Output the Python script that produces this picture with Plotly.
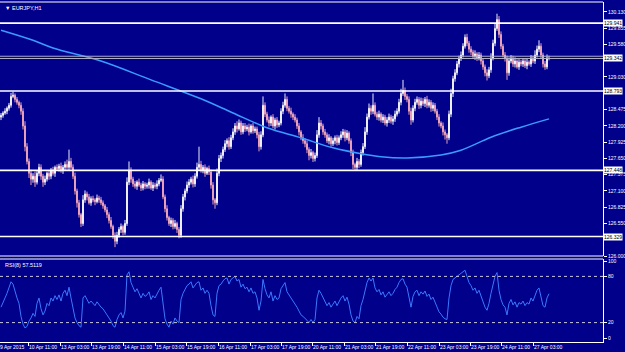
import plotly.graph_objects as go

# ---------------- data ----------------
FIRST_OPEN = 128.35
CLOSE = [
    128.38, 128.42, 128.45, 128.50, 128.55, 128.70, 128.72, 128.65, 128.60, 128.55,
    128.45, 128.20, 127.85, 127.60, 127.40, 127.30, 127.35, 127.25, 127.40, 127.50,
    127.35, 127.25, 127.30, 127.40, 127.35, 127.45, 127.40, 127.50, 127.48, 127.52,
    127.45, 127.50, 127.55, 127.50, 127.60, 127.50, 127.35, 127.10, 126.90, 126.70,
    126.55, 126.95, 127.05, 127.00, 126.90, 126.97, 126.95, 126.92, 126.98, 126.95,
    126.90, 126.85, 126.78, 126.70, 126.60, 126.50, 126.35, 126.25, 126.35, 126.45,
    126.50, 126.40, 126.55, 127.25, 127.45, 127.30, 127.22, 127.18, 127.25, 127.20,
    127.15, 127.22, 127.18, 127.20, 127.25, 127.15, 127.20, 127.18, 127.22, 127.28,
    127.30, 127.00, 126.80, 126.65, 126.55, 126.60, 126.50, 126.55, 126.45, 126.35,
    126.80, 127.00, 127.10, 127.20, 127.25, 127.30, 127.22, 127.35, 127.50, 127.55,
    127.45, 127.50, 127.40, 127.48, 127.42, 127.20, 126.95, 126.90, 127.40, 127.65,
    127.70, 127.80, 127.90, 127.95, 127.85, 128.00, 128.10, 128.20, 128.15, 128.25,
    128.10, 128.20, 128.15, 128.18, 128.10, 128.20, 128.12, 128.15, 128.05, 127.85,
    128.05, 128.55, 128.40, 128.30, 128.25, 128.35, 128.20, 128.30, 128.22, 128.25,
    128.45, 128.55, 128.65, 128.50, 128.45, 128.40, 128.35, 128.30, 128.20, 128.10,
    128.00, 127.95, 127.90, 127.80, 127.70, 127.75, 127.65, 127.70, 128.05, 128.25,
    128.20, 128.10, 128.05, 127.95, 128.00, 127.90, 127.95, 128.00, 127.92, 128.00,
    128.05, 128.10, 128.00, 128.08, 127.95, 127.75, 127.55, 127.50, 127.60, 127.55,
    127.75, 127.85, 128.10, 128.35, 128.50, 128.45, 128.55, 128.40, 128.35, 128.40,
    128.30, 128.35, 128.25, 128.30, 128.35, 128.28, 128.32, 128.40, 128.45, 128.60,
    128.75, 128.80, 128.70, 128.65, 128.45, 128.30, 128.50, 128.60, 128.65, 128.55,
    128.62, 128.58, 128.65, 128.55, 128.60, 128.50, 128.55, 128.45, 128.35, 128.25,
    128.20, 128.10, 128.05, 128.00, 128.40, 128.75, 129.00, 129.10, 129.25, 129.35,
    129.40, 129.55, 129.70, 129.60, 129.50, 129.45, 129.38, 129.42, 129.35, 129.40,
    129.30, 129.20, 129.10, 129.05, 129.15, 129.35, 129.60, 129.85, 130.00, 129.75,
    129.55, 129.40, 129.35, 129.10, 129.30, 129.35, 129.25, 129.30, 129.20, 129.28,
    129.25, 129.30, 129.22, 129.28, 129.25, 129.35, 129.30, 129.40, 129.50, 129.55,
    129.40, 129.25, 129.20, 129.35, 129.34,
]
# upper / lower wick lengths in hundredths of a yen
UP_WICK = [
    4, 3, 5, 3, 4, 6, 6, 3, 4, 3,   5, 5, 8, 6, 5, 6, 5, 8, 4, 6,
    5, 4, 6, 3, 5, 4, 6, 3, 5, 4,   6, 4, 5, 8, 20, 6, 5, 6, 4, 5,
    3, 8, 6, 4, 5, 4, 5, 3, 6, 4,   5, 4, 3, 5, 4, 6, 3, 5, 6, 4,
    5, 3, 6, 8, 15, 5, 4, 5, 3, 6,  4, 5, 3, 4, 6, 3, 5, 4, 6, 4,
    8, 5, 4, 6, 3, 5, 4, 6, 3, 4,   6, 5, 4, 6, 5, 4, 6, 5, 8, 30,
    6, 4, 5, 3, 5, 4, 5, 3, 8, 6,   5, 5, 6, 4, 6, 5, 6, 5, 8, 6,
    4, 5, 5, 4, 6, 3, 5, 4, 4, 5,   6, 15, 5, 4, 6, 3, 5, 4, 5, 4,
    5, 6, 10, 5, 4, 6, 3, 5, 4, 5,  3, 6, 4, 5, 4, 6, 3, 5, 8, 10,
    5, 4, 5, 4, 6, 3, 5, 4, 5, 4,   6, 5, 4, 5, 3, 4, 5, 3, 6, 4,
    5, 6, 8, 6, 8, 5, 20, 5, 4, 6,  3, 5, 4, 5, 6, 4, 5, 6, 5, 6,
    8, 18, 5, 4, 5, 6, 5, 6, 5, 4,  6, 5, 4, 6, 5, 4, 5, 4, 4, 5,
    3, 6, 4, 3, 6, 8, 5, 6, 5, 4,   6, 5, 5, 6, 4, 5, 4, 6, 3, 5,
    4, 5, 4, 6, 5, 8, 6, 8, 10, 6,  5, 4, 5, 4, 6, 5, 4, 6, 3, 5,
    4, 5, 4, 6, 3, 5, 4, 8, 6, 10,  5, 4, 5, 6, 4,
]
DOWN_WICK = [
    5, 4, 3, 5, 4, 4, 3, 5, 4, 5,   6, 6, 8, 5, 8, 10, 6, 8, 4, 5,
    6, 8, 5, 4, 6, 5, 4, 6, 3, 5,   4, 6, 5, 4, 5, 3, 5, 6, 8, 5,
    6, 4, 5, 6, 3, 5, 4, 6, 3, 5,   4, 5, 4, 6, 5, 4, 6, 10, 5, 4,
    6, 5, 4, 4, 5, 6, 5, 4, 6, 3,   5, 4, 5, 4, 6, 3, 5, 4, 5, 4,
    3, 4, 6, 5, 4, 6, 5, 4, 6, 5,   4, 5, 6, 4, 5, 4, 6, 5, 4, 5,
    4, 5, 6, 3, 5, 6, 8, 10, 4, 5,  6, 5, 4, 6, 5, 4, 4, 5, 6, 3,
    5, 4, 5, 4, 6, 3, 5, 4, 6, 8,   5, 4, 5, 4, 6, 5, 4, 6, 5, 4,
    4, 5, 4, 5, 4, 6, 5, 4, 5, 6,   4, 5, 6, 6, 8, 5, 6, 5, 4, 5,
    6, 5, 5, 4, 6, 5, 4, 6, 5, 4,   4, 5, 6, 4, 5, 6, 8, 5, 5, 6,
    4, 5, 4, 5, 4, 6, 5, 4, 5, 6,   4, 5, 4, 6, 5, 4, 6, 5, 4, 4,
    5, 4, 6, 5, 6, 8, 4, 5, 4, 6,   5, 4, 6, 5, 4, 6, 5, 4, 5, 6,
    4, 6, 8, 10, 4, 5, 6, 5, 4, 6,  5, 4, 4, 5, 6, 5, 4, 6, 5, 4,
    6, 5, 6, 8, 4, 5, 4, 5, 4, 6,   5, 4, 6, 12, 5, 4, 5, 6, 3, 5,
    4, 5, 4, 6, 3, 5, 4, 5, 4, 5,   6, 6, 5, 4, 3,
]
RSI = [
    40, 45, 52, 58, 65, 73, 70, 60, 52, 45,  28, 18, 13, 15, 22, 26, 32, 28, 45, 52,
    38, 30, 35, 45, 42, 52, 48, 55, 50, 56,  48, 58, 62, 55, 66, 52, 38, 26, 20, 16,
    14, 52, 55, 50, 45, 48, 45, 42, 47, 43,  40, 38, 33, 30, 26, 22, 16, 14, 24, 30,
    33, 26, 35, 82, 86, 72, 66, 60, 64, 58,  52, 58, 54, 56, 60, 50, 55, 52, 58, 62,
    66, 42, 25, 18, 14, 22, 18, 26, 22, 20,  50, 58, 64, 68, 70, 73, 65, 68, 72, 73,
    62, 65, 58, 62, 58, 42, 30, 28, 58, 68,  70, 74, 77, 78, 70, 76, 78, 80, 74, 76,
    66, 70, 64, 66, 60, 65, 58, 60, 52, 36,  48, 76, 64, 56, 52, 60, 48, 55, 50, 52,
    64, 68, 72, 60, 56, 52, 48, 45, 40, 35,  30, 28, 26, 23, 20, 24, 20, 24, 52, 62,
    58, 52, 48, 42, 46, 40, 44, 48, 42, 48,  52, 55, 48, 53, 44, 30, 22, 20, 28, 25,
    42, 50, 62, 72, 78, 74, 78, 65, 60, 63,  56, 60, 53, 57, 60, 55, 58, 63, 66, 72,
    76, 77, 70, 66, 50, 40, 54, 60, 62, 55,  60, 57, 61, 54, 57, 50, 53, 46, 40, 34,
    31, 27, 25, 24, 52, 68, 76, 78, 81, 83,  84, 86, 88, 80, 72, 68, 62, 65, 58, 62,
    54, 46, 40, 36, 45, 58, 70, 80, 85, 62,  50, 43, 40, 30, 45, 50, 43, 47, 40, 46,
    44, 48, 42, 46, 44, 52, 48, 55, 62, 65,  52, 42, 40, 52, 57.5,
]
MA_BARS = [0, 16, 26, 50, 75, 100, 116, 133, 150, 166, 180, 190, 203, 220, 230, 245, 260, 274]
MA_VALUES = [129.82, 129.65, 129.52, 129.30, 128.98, 128.66, 128.42, 128.17, 128.00, 127.83,
             127.73, 127.68, 127.66, 127.71, 127.79, 128.01, 128.18, 128.32]

LEVELS = [129.941, 128.793, 127.448, 126.329]
LEVEL_LABELS = ["129.941", "128.793", "127.448", "126.329"]
GREY_LEVELS = [129.342, 129.380]
GREY_LABEL = "129.342"

PRICE_TICKS = [130.130, 129.855, 129.580, 129.030, 128.475, 128.200,
               127.925, 127.650, 127.375, 127.100, 126.825, 126.550, 126.000]
PRICE_TICK_TEXT = ["130.130", "129.855", "129.580", "129.030", "128.475", "128.200",
                   "127.925", "127.650", "127.375", "127.100", "126.825", "126.550", "126.000"]
RSI_TICKS = [0, 20, 80, 100]
TIME_TICK_BARS = [13.5, 29.5, 45, 61, 77, 92.5, 108.5, 124.5, 140, 155.5, 171.5,
                  187, 203, 219, 234.5, 250, 266]
TIME_TICK_LABELS = ["10 Apr 11:00", "13 Apr 03:00", "13 Apr 19:00", "14 Apr 11:00",
                    "15 Apr 03:00", "15 Apr 19:00", "16 Apr 11:00", "17 Apr 03:00",
                    "17 Apr 19:00", "20 Apr 11:00", "21 Apr 03:00", "21 Apr 19:00",
                    "22 Apr 11:00", "23 Apr 03:00", "23 Apr 19:00", "24 Apr 11:00",
                    "27 Apr 03:00"]
FIRST_DATE_LABEL = "9 Apr 2015"

# ---------------- build ----------------
n = min(len(CLOSE), len(UP_WICK), len(DOWN_WICK), len(RSI))
bars = list(range(n))
opens = [FIRST_OPEN] + CLOSE[:n - 1]
highs = [max(opens[i], CLOSE[i]) + UP_WICK[i] / 100 for i in range(n)]
lows = [min(opens[i], CLOSE[i]) - DOWN_WICK[i] / 100 for i in range(n)]

BG = "#00008B"
FONT = "Liberation Sans"
XR = 603 / 625
MAIN_TOP = 1 - 2 / 352
MAIN_BOT = 1 - 256 / 352
RSI_TOP = 1 - 259 / 352
RSI_BOT = 1 - 342 / 352

fig = go.Figure()
fig.add_trace(go.Candlestick(
    x=bars, open=opens, high=highs, low=lows, close=CLOSE[:n],
    increasing=dict(line=dict(color="#EEEEF6", width=1), fillcolor="#FFFFFF"),
    decreasing=dict(line=dict(color="#E8A0B8", width=1), fillcolor="#F0A8C0"),
    whiskerwidth=0, xaxis="x", yaxis="y", showlegend=False, hoverinfo="skip"))
fig.add_trace(go.Scatter(x=MA_BARS, y=MA_VALUES, mode="lines", line=dict(color="#3A9CFF", width=1.5, shape="spline"),
                         xaxis="x", yaxis="y", showlegend=False, hoverinfo="skip"))
fig.add_trace(go.Scatter(x=bars, y=RSI[:n], mode="lines", line=dict(color="#3C78FF", width=1),
                         xaxis="x", yaxis="y2", showlegend=False, hoverinfo="skip"))

shapes = []
for yp in [MAIN_TOP, MAIN_BOT, RSI_TOP]:
    shapes.append(dict(type="line", xref="paper", yref="paper", x0=0, x1=XR, y0=yp, y1=yp,
                       line=dict(color="#FFFFFF", width=1)))
for lv in LEVELS:
    shapes.append(dict(type="line", xref="paper", yref="y", x0=0, x1=XR, y0=lv, y1=lv,
                       line=dict(color="#FFFFFF", width=1.6)))
for lv in GREY_LEVELS:
    shapes.append(dict(type="line", xref="paper", yref="y", x0=0, x1=XR, y0=lv, y1=lv,
                       line=dict(color="#B0B0C8", width=1)))
for lv in [80, 20]:
    shapes.append(dict(type="line", xref="paper", yref="y2", x0=0, x1=XR, y0=lv, y1=lv,
                       line=dict(color="#C8C8D8", width=1, dash="dot")))

annotations = [
    dict(text="▼ EURJPY,H1", x=0.005, y=1 - 8 / 352, xref="paper", yref="paper", xanchor="left",
         yanchor="middle", showarrow=False, font=dict(color="#FFFFFF", size=5.5, family=FONT)),
    dict(text="RSI(8) 57.5119", x=0.004, y=1 - 265 / 352, xref="paper", yref="paper", xanchor="left",
         yanchor="middle", showarrow=False, font=dict(color="#FFFFFF", size=5.5, family=FONT)),
    dict(text=FIRST_DATE_LABEL, x=-0.004, y=1 - 346.5 / 352, xref="paper", yref="paper", xanchor="left",
         yanchor="middle", showarrow=False, font=dict(color="#FFFFFF", size=5, family=FONT)),
]
for lv, lab in zip(LEVELS + [GREY_LEVELS[0]], LEVEL_LABELS + [GREY_LABEL]):
    annotations.append(dict(text=lab, x=XR, y=lv, xref="paper", yref="y", xanchor="left", yanchor="middle",
                            showarrow=False, bgcolor="#FFFFFF", borderpad=0,
                            font=dict(color="#000000", size=5, family=FONT)))

axis_font = dict(color="#FFFFFF", size=5, family=FONT)
fig.update_layout(
    width=625, height=352, margin=dict(l=0, r=0, t=0, b=0, autoexpand=False),
    paper_bgcolor=BG, plot_bgcolor=BG, showlegend=False,
    xaxis=dict(domain=[0, XR], range=[-0.5, 301], anchor="y2", tickmode="array",
               tickvals=TIME_TICK_BARS, ticktext=TIME_TICK_LABELS, ticks="outside", ticklen=3,
               tickcolor="#FFFFFF", tickfont=axis_font, ticklabelposition="outside right",
               tickangle=0, automargin=False,
               showgrid=False, zeroline=False, showline=True, linecolor="#FFFFFF", linewidth=1,
               rangeslider=dict(visible=False), fixedrange=True),
    yaxis=dict(domain=[MAIN_BOT, MAIN_TOP], range=[126.0, 126.0 + 254 / 59.1], side="right", anchor="x",
               tickmode="array", tickvals=PRICE_TICKS, ticktext=PRICE_TICK_TEXT, ticks="outside",
               ticklen=3, tickcolor="#FFFFFF", tickfont=axis_font, showgrid=False, zeroline=False,
               automargin=False,
               showline=True, linecolor="#FFFFFF", linewidth=1, fixedrange=True),
    yaxis2=dict(domain=[RSI_BOT, RSI_TOP], range=[-5.2, 102.6], side="right", anchor="x",
                tickmode="array", tickvals=RSI_TICKS, ticktext=[str(v) for v in RSI_TICKS],
                ticks="outside", ticklen=3, tickcolor="#FFFFFF", tickfont=axis_font, automargin=False,
                showgrid=False, zeroline=False, showline=True, linecolor="#FFFFFF", linewidth=1,
                fixedrange=True),
    shapes=shapes, annotations=annotations,
)

fig.write_html("out.html")
